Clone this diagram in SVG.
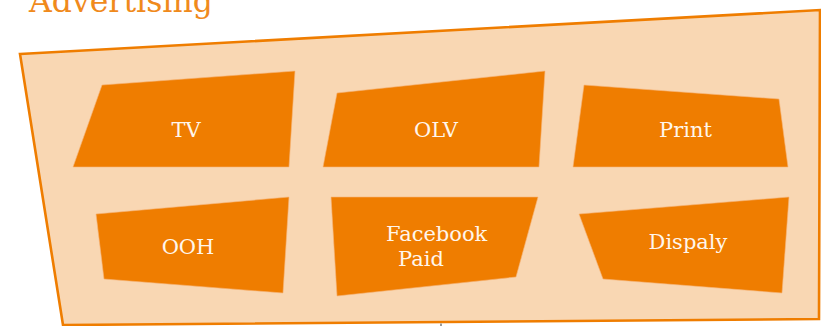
<svg xmlns="http://www.w3.org/2000/svg" width="821" height="326" viewBox="0 0 821 326">
<style>
.frame{fill:#F9D7B3;stroke:#EF7D00;stroke-width:2.6;stroke-linejoin:miter}
.box{fill:#EF7D00;stroke:#F6B57A;stroke-width:0.6}
.lbl{font-family:"DejaVu Serif","Liberation Serif",serif;font-size:21px;fill:#FFF6EC}
.title{font-family:"DejaVu Serif","Liberation Serif",serif;font-size:31.5px;fill:#F08A1C}
.c{text-anchor:middle}
</style>
<rect width="821" height="326" fill="#FFFFFF"/>
<text class="title" x="29" y="12">Advertising</text>
<g id="frame">
<polygon class="frame" points="20,54 820,10 819,319 63,325"/>
</g>
<g id="connectors">
<line x1="441" y1="323.5" x2="441" y2="326" stroke="#9A9A9A" stroke-width="2"/>
</g>
<g id="tv">
<polygon class="box" points="102,85 295,71 289,167 73,167"/>
<text class="lbl c" x="186" y="137">TV</text>
</g>
<g id="olv">
<polygon class="box" points="337,93 545,71 539,167 323,167"/>
<text class="lbl c" x="436" y="137">OLV</text>
</g>
<g id="print">
<polygon class="box" points="584,85 779,99 788,167 573,167"/>
<text class="lbl c" x="685.5" y="137">Print</text>
</g>
<g id="ooh">
<polygon class="box" points="96,214 289,197 283,293 104,279"/>
<text class="lbl c" x="188" y="254">OOH</text>
</g>
<g id="facebook">
<polygon class="box" points="331,197 538,197 516,277 337,296"/>
<text class="lbl" x="386" y="241">Facebook</text>
<text class="lbl" x="398" y="266">Paid</text>
</g>
<g id="dispaly">
<polygon class="box" points="579,214 789,197 782,293 603,279"/>
<text class="lbl c" x="688" y="249">Dispaly</text>
</g>
</svg>
